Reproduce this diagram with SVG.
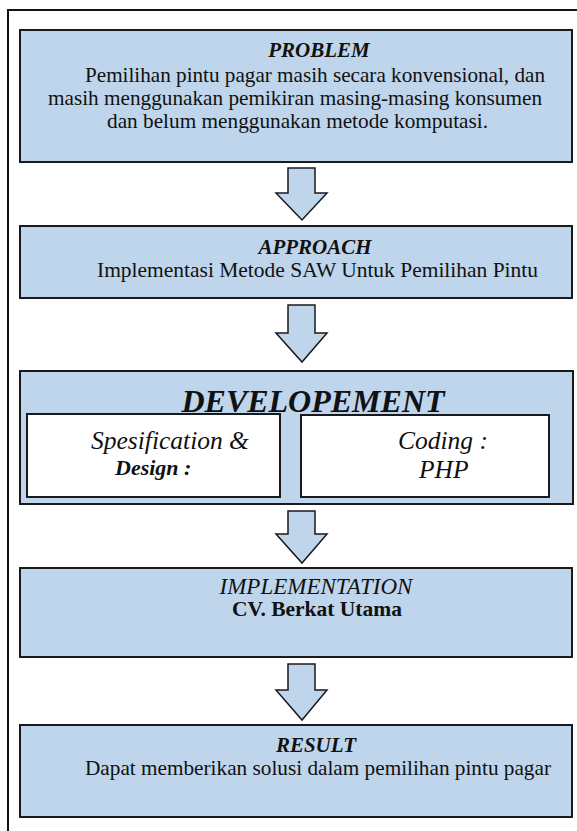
<svg xmlns="http://www.w3.org/2000/svg" width="577" height="831" viewBox="0 0 577 831">
<style>
.box{fill:#bed5ec;stroke:#1a1a1a;stroke-width:2}
.inner{fill:#ffffff;stroke:#1a1a1a;stroke-width:2}
.arr{fill:#bed5ec;stroke:#1a1a1a;stroke-width:1.5;stroke-linejoin:miter}
text{font-family:"Liberation Serif","Times New Roman",serif;fill:#111}
.t{font-size:21px;font-weight:bold;font-style:italic;text-anchor:middle}
.b{font-size:21px}
.it{font-size:25.5px;font-style:italic}
</style>
<rect x="8" y="10" width="620" height="900" fill="#fff" stroke="#111" stroke-width="2"/>
<g id="connectors">
<path class="arr" d="M288,168 H315 V193 H327 L302,220 L276,193 H288 Z"/>
<path class="arr" d="M288,305 H315 V333 H327 L302,362 L276,333 H288 Z"/>
<path class="arr" d="M288,511 H315 V534 H327 L302,563 L276,534 H288 Z"/>
<path class="arr" d="M288,664 H315 V690 H327 L302,720 L276,690 H288 Z"/>
</g>
<g id="problem">
<rect class="box" x="20" y="30" width="552" height="132"/>
<text class="t" x="319" y="57">PROBLEM</text>
<text class="b" x="85" y="82" textLength="460" lengthAdjust="spacingAndGlyphs">Pemilihan pintu pagar masih secara konvensional, dan</text>
<text class="b" x="48" y="105" textLength="494" lengthAdjust="spacingAndGlyphs">masih menggunakan pemikiran masing-masing konsumen</text>
<text class="b" x="107" y="128" textLength="381" lengthAdjust="spacingAndGlyphs">dan belum menggunakan metode komputasi.</text>
</g>
<g id="approach">
<rect class="box" x="20" y="226" width="552" height="72"/>
<text class="t" x="315" y="254">APPROACH</text>
<text class="b" x="97" y="277" textLength="441" lengthAdjust="spacingAndGlyphs">Implementasi Metode SAW Untuk Pemilihan Pintu</text>
</g>
<g id="developement">
<rect class="box" x="20" y="371" width="553" height="133"/>
<text x="313" y="412" style="font-size:32px;font-weight:bold;font-style:italic;text-anchor:middle">DEVELOPEMENT</text>
<g id="spec">
<rect class="inner" x="27" y="414" width="253" height="83"/>
<text class="it" x="91" y="449">Spesification &amp;</text>
<text x="115" y="475" style="font-size:22px;font-weight:bold;font-style:italic">Design :</text>
</g>
<g id="coding">
<rect class="inner" x="301" y="415" width="248" height="82"/>
<text class="it" x="398" y="449">Coding :</text>
<text class="it" x="419" y="478">PHP</text>
</g>
</g>
<g id="implementation">
<rect class="box" x="20" y="568" width="552" height="89"/>
<text x="316" y="594" style="font-size:23px;font-style:italic;text-anchor:middle">IMPLEMENTATION</text>
<text x="317" y="616" style="font-size:21.5px;font-weight:bold;text-anchor:middle">CV. Berkat Utama</text>
</g>
<g id="result">
<rect class="box" x="20" y="725" width="552" height="92"/>
<text class="t" x="316" y="752">RESULT</text>
<text class="b" x="85" y="775" textLength="466" lengthAdjust="spacingAndGlyphs">Dapat memberikan solusi dalam pemilihan pintu pagar</text>
</g>
</svg>
